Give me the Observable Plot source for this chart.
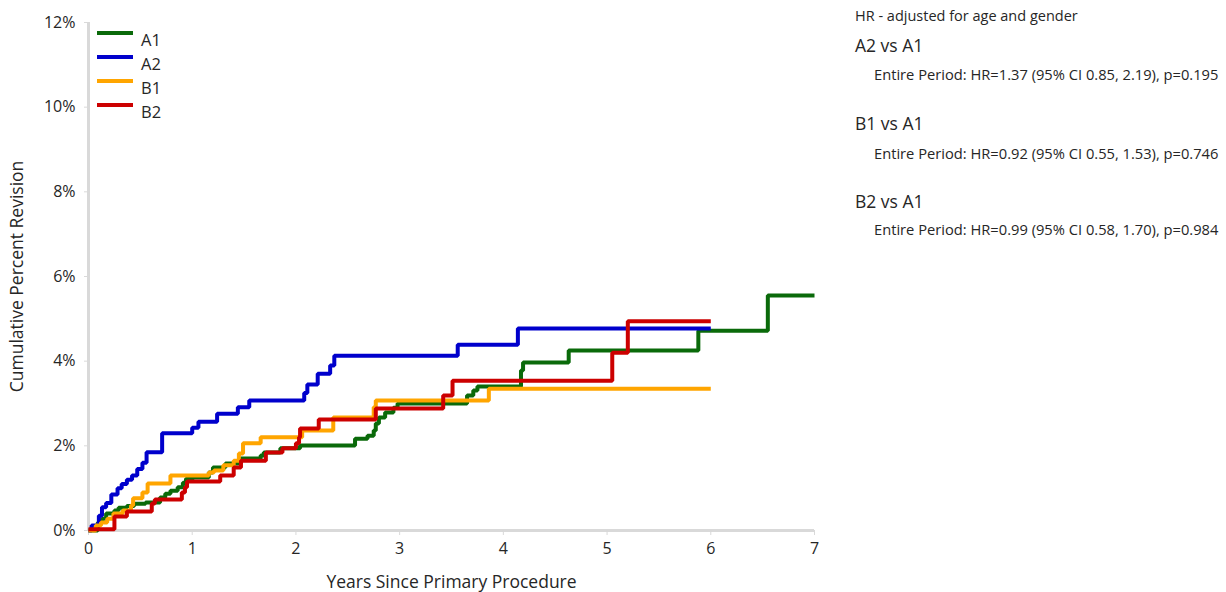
<!DOCTYPE html>
<html>
<head>
<meta charset="utf-8">
<script src="https://cdn.jsdelivr.net/npm/d3@7"></script>
<script src="https://cdn.jsdelivr.net/npm/@observablehq/plot@0.6"></script>
<style>
  html, body { margin: 0; padding: 0; background: #fff; }
  body { width: 1226px; height: 592px; position: relative; overflow: hidden; font-family: "Open Sans", "Noto Sans", sans-serif; color: #262626; }
  #chart { position: absolute; left: 0; top: 0; }
  .t { position: absolute; white-space: nowrap; }
  .legend { position: absolute; left: 97px; top: 22px; }
  .legend .item { position: absolute; left: 0; white-space: nowrap; font-size: 16.5px; }
  .legend .sw { position: absolute; left: 0; width: 36px; height: 4px; }
  .legend .lab { position: absolute; left: 44px; }
  .hdr { font-size: 14.5px; line-height: 20px; }
  .cmp { font-size: 17.5px; line-height: 22px; }
  .ent { font-size: 14.7px; line-height: 20px; }
</style>
</head>
<body>
<div id="chart"></div>
<div class="legend" id="legend"></div>
<div class="t hdr" style="left:855px; top:6px;">HR - adjusted for age and gender</div>
<div class="t cmp" style="left:855px; top:34px;">A2 vs A1</div>
<div class="t ent" style="left:874px; top:64px;">Entire Period: HR=1.37 (95% CI 0.85, 2.19), p=0.195</div>
<div class="t cmp" style="left:855px; top:112px;">B1 vs A1</div>
<div class="t ent" style="left:874px; top:143px;">Entire Period: HR=0.92 (95% CI 0.55, 1.53), p=0.746</div>
<div class="t cmp" style="left:855px; top:190px;">B2 vs A1</div>
<div class="t ent" style="left:874px; top:219px;">Entire Period: HR=0.99 (95% CI 0.58, 1.70), p=0.984</div>
<script>
// ---- data ----
const seriesNames = ["A1", "A2", "B1", "B2"];
const seriesColors = ["#0a6a0a", "#0000cc", "#ffa500", "#cc0000"];

const a1Years = [0, 0.09, 0.13, 0.17, 0.25, 0.29, 0.37, 0.44, 0.55, 0.69, 0.74, 0.79, 0.86, 0.91, 0.94, 1.01, 1.16, 1.20, 1.32, 1.47, 1.66, 1.69, 1.85, 2.04, 2.57, 2.69, 2.75, 2.77, 2.80, 2.86, 2.94, 2.98, 3.65, 3.71, 3.75, 4.17, 4.19, 4.63, 5.88, 6.55, 7.0];
const a1Pct   = [0, 0.19, 0.28, 0.40, 0.47, 0.54, 0.58, 0.63, 0.66, 0.78, 0.87, 0.94, 1.02, 1.13, 1.22, 1.25, 1.37, 1.49, 1.58, 1.70, 1.77, 1.84, 1.94, 2.01, 2.17, 2.24, 2.36, 2.53, 2.67, 2.79, 2.90, 3.00, 3.19, 3.31, 3.40, 3.78, 3.97, 4.25, 4.72, 5.55, 5.55];

const a2Years = [0, 0.03, 0.10, 0.13, 0.17, 0.22, 0.28, 0.32, 0.37, 0.42, 0.47, 0.52, 0.56, 0.71, 1.00, 1.06, 1.24, 1.44, 1.55, 2.08, 2.11, 2.21, 2.33, 2.37, 3.56, 4.14, 6.0];
const a2Pct   = [0, 0.12, 0.35, 0.55, 0.65, 0.85, 1.00, 1.10, 1.20, 1.30, 1.45, 1.60, 1.85, 2.30, 2.43, 2.57, 2.76, 2.91, 3.07, 3.25, 3.45, 3.70, 3.90, 4.13, 4.39, 4.77, 4.77];

const b1Years = [0, 0.07, 0.12, 0.18, 0.24, 0.33, 0.41, 0.43, 0.52, 0.57, 0.79, 1.16, 1.21, 1.30, 1.40, 1.45, 1.49, 1.66, 2.06, 2.36, 2.75, 2.77, 3.86, 6.0];
const b1Pct   = [0, 0.12, 0.19, 0.28, 0.40, 0.47, 0.59, 0.76, 0.90, 1.11, 1.30, 1.37, 1.42, 1.54, 1.65, 1.82, 2.06, 2.20, 2.36, 2.67, 2.91, 3.07, 3.35, 3.35];

const b2Years = [0, 0.25, 0.37, 0.61, 0.64, 0.90, 0.93, 0.95, 1.27, 1.40, 1.47, 1.71, 1.87, 2.00, 2.03, 2.04, 2.22, 2.77, 3.42, 3.51, 5.05, 5.20, 6.0];
const b2Pct   = [0.03, 0.33, 0.45, 0.64, 0.73, 0.90, 1.02, 1.16, 1.30, 1.49, 1.65, 1.84, 1.94, 2.06, 2.20, 2.41, 2.62, 2.88, 3.19, 3.54, 4.20, 4.94, 4.94];

const xTicks = [0, 1, 2, 3, 4, 5, 6, 7];
const yTicks = [0, 2, 4, 6, 8, 10, 12];
const xLabel = "Years Since Primary Procedure";
const yLabel = "Cumulative Percent Revision";

// ---- build table ----
const yearsList = [a1Years, a2Years, b1Years, b2Years];
const pctList = [a1Pct, a2Pct, b1Pct, b2Pct];
const rows = [];
seriesNames.forEach((name, i) => {
  yearsList[i].forEach((t, j) => rows.push({series: name, year: t, pct: pctList[i][j]}));
});

const axisGray = "#d9d9d9";
const chart = Plot.plot({
  width: 1226,
  height: 592,
  marginLeft: 88,
  marginRight: 412,
  marginTop: 22,
  marginBottom: 62,
  style: {fontFamily: '"Open Sans", "Noto Sans", sans-serif', fontSize: "16px", color: "#262626", background: "transparent"},
  x: {domain: [0, 7], label: null},
  y: {domain: [0, 12], label: null},
  color: {domain: seriesNames, range: seriesColors},
  marks: [
    Plot.ruleX([0], {stroke: axisGray, strokeWidth: 3}),
    Plot.ruleY([0], {stroke: axisGray, strokeWidth: 3}),
    Plot.axisX({ticks: xTicks, tickFormat: d => String(d), tickSize: 5, tickPadding: 7, stroke: axisGray, fill: "#262626", label: null}),
    Plot.axisX({ticks: [], label: xLabel, labelAnchor: "center", labelArrow: "none", labelOffset: 57, fontSize: 17.5, fill: "#262626"}),
    Plot.axisY({ticks: yTicks, tickFormat: d => d + "%", tickSize: 4, tickPadding: 9, stroke: axisGray, fill: "#262626", label: null}),
    Plot.axisY({ticks: [], label: yLabel, labelAnchor: "center", labelArrow: "none", labelOffset: 78, fontSize: 17.5, fill: "#262626"}),
    Plot.line(rows, {x: "year", y: "pct", z: "series", stroke: "series", strokeWidth: 4, curve: "step-after", strokeLinecap: "butt", strokeLinejoin: "miter"})
  ]
});
document.getElementById("chart").appendChild(chart);

// ---- legend ----
const legend = document.getElementById("legend");
seriesNames.forEach((name, i) => {
  const item = document.createElement("div");
  item.className = "item";
  item.style.top = (i * 24) + "px";
  item.innerHTML = `<div class="sw" style="top:9px;background:${seriesColors[i]}"></div><div class="lab" style="top:7px;line-height:22px;">${name}</div>`;
  legend.appendChild(item);
});
</script>
</body>
</html>
